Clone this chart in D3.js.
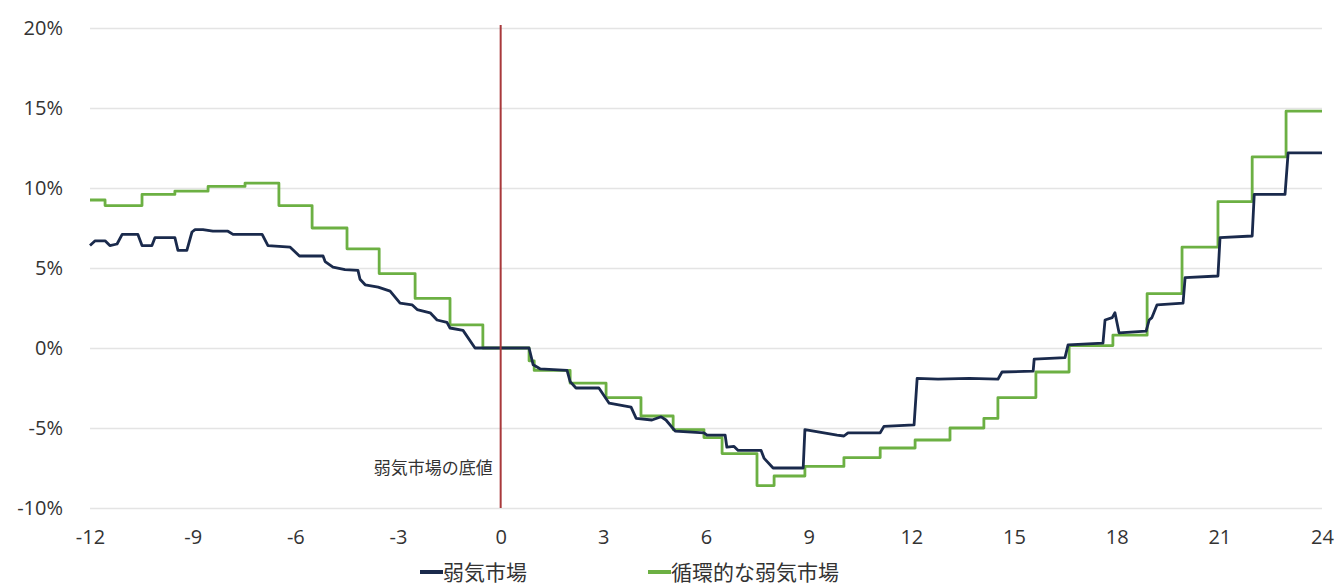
<!DOCTYPE html>
<html>
<head>
<meta charset="utf-8">
<script src="https://cdn.jsdelivr.net/npm/d3@7"></script>
<style>
  html, body { margin: 0; padding: 0; background: #ffffff; }
  svg { display: block; }
</style>
</head>
<body>
<svg id="chart" width="1338" height="587"></svg>
<script>
// ---- data (months from the bear-market bottom, % change) ----
const xTicks = [-12, -9, -6, -3, 0, 3, 6, 9, 12, 15, 18, 21, 24];
const yTicks = [-10, -5, 0, 5, 10, 15, 20];
const seriesNames = ["弱気市場", "循環的な弱気市場"];
const annotationText = "弱気市場の底値";

// 弱気市場 (navy) – vertices
const bearMonths = [-12, -11.85, -11.56, -11.42, -11.21, -11.06, -10.6, -10.48, -10.19, -10.1, -9.52, -9.43, -9.17,
  -9.02, -8.93, -8.7, -8.41, -7.97, -7.82, -6.97, -6.8, -6.15, -5.88, -5.19, -5.13, -4.9, -4.55, -4.17, -4.11,
  -3.96, -3.58, -3.23, -2.94, -2.59, -2.44, -2.06, -1.86, -1.57, -1.48, -1.1, -0.75, 0.83, 0.95, 1.15, 1.94,
  2.03, 2.2, 2.87, 3.17, 3.81, 3.96, 4.42, 4.69, 4.83, 5.1, 5.94, 6.03, 6.56, 6.61, 6.82, 6.94, 7.61, 7.7,
  7.96, 8.84, 8.89, 9.83, 10.03, 10.15, 11.09, 11.2, 12.08, 12.17, 12.78, 13.69, 14.53, 14.65, 15.56, 15.59,
  16.49, 16.58, 17.6, 17.66, 17.87, 17.95, 18.07, 18.86, 18.95, 19.03, 19.18, 19.94, 20.0, 20.96, 21.02,
  21.96, 22.02, 22.92, 23.01, 24];
const bearValues = [6.4, 6.7, 6.7, 6.4, 6.5, 7.1, 7.1, 6.4, 6.4, 6.9, 6.9, 6.1, 6.1,
  7.25, 7.4, 7.4, 7.3, 7.3, 7.1, 7.1, 6.4, 6.3, 5.75, 5.75, 5.4, 5.05, 4.9, 4.85, 4.3,
  3.95, 3.8, 3.55, 2.8, 2.7, 2.4, 2.2, 1.75, 1.6, 1.25, 1.1, 0, 0, -1.05, -1.3, -1.4,
  -2.1, -2.5, -2.5, -3.45, -3.7, -4.4, -4.5, -4.3, -4.5, -5.2, -5.3, -5.45, -5.45, -6.2, -6.15, -6.4, -6.4, -6.9,
  -7.5, -7.5, -5.1, -5.45, -5.5, -5.3, -5.3, -4.9, -4.8, -1.9, -1.95, -1.9, -1.95, -1.5, -1.45, -0.7,
  -0.6, 0.2, 0.3, 1.75, 1.9, 2.2, 0.95, 1.05, 1.75, 1.9, 2.7, 2.8, 4.4, 4.5, 6.9,
  7.0, 9.6, 9.6, 12.2, 12.2];

// 循環的な弱気市場 (green) – step changes (value holds until next change)
const cycMonths = [-12, -11.56, -10.48, -9.52, -8.55, -7.47, -6.48, -5.51, -4.49, -3.55, -2.5, -1.48, -0.52,
  0.83, 0.98, 2.03, 3.08, 4.1, 5.04, 5.94, 6.47, 7.49, 7.99, 8.89, 10.03, 11.09, 12.11, 13.13, 14.12, 14.53,
  15.64, 16.61, 17.89, 18.89, 19.91, 20.96, 21.96, 22.95, 24];
const cycValues = [9.25, 8.9, 9.6, 9.8, 10.1, 10.3, 8.9, 7.5, 6.2, 4.65, 3.1, 1.45, 0,
  -0.8, -1.4, -2.2, -3.1, -4.25, -5.1, -5.6, -6.6, -8.6, -8.0, -7.4, -6.85, -6.25, -5.75, -5.0, -4.4, -3.1,
  -1.5, 0.15, 0.8, 3.4, 6.3, 9.15, 11.95, 14.8, 14.8];

// ---- drawing ----
const svg = d3.select("#chart");
const FONT = "'Open Sans', 'Noto Sans CJK JP', sans-serif";
const plotLeft = 90, plotRight = 1322, plotTop = 28, plotBottom = 508;

const x = d3.scaleLinear().domain([-12, 24]).range([plotLeft, plotRight]);
const y = d3.scaleLinear().domain([-10, 20]).range([plotBottom, plotTop]);

// y axis + grid
const yAxis = svg.append("g")
  .attr("transform", `translate(${plotLeft},0)`)
  .call(d3.axisLeft(y).tickValues(yTicks).tickSize(-(plotRight - plotLeft)).tickPadding(27)
    .tickFormat(d => d + "%"));
yAxis.select(".domain").remove();
yAxis.selectAll(".tick line").attr("stroke", "#e4e4e4").attr("stroke-width", 1.6);
yAxis.selectAll(".tick text").attr("font-family", FONT).attr("font-size", 20).attr("fill", "#333");

// x axis
const xAxis = svg.append("g")
  .attr("transform", `translate(0,${plotBottom})`)
  .call(d3.axisBottom(x).tickValues(xTicks).tickSize(0).tickPadding(22).tickFormat(d => String(d)));
xAxis.select(".domain").remove();
xAxis.selectAll(".tick text").attr("font-family", FONT).attr("font-size", 20).attr("fill", "#333");

// series
const cycData = cycMonths.map((m, i) => [m, cycValues[i]]);
const bearData = bearMonths.map((m, i) => [m, bearValues[i]]);

svg.append("path")
  .datum(cycData)
  .attr("fill", "none")
  .attr("stroke", "#6cb043")
  .attr("stroke-width", 2.8)
  .attr("stroke-linejoin", "round")
  .attr("d", d3.line().x(d => x(d[0])).y(d => y(d[1])).curve(d3.curveStepAfter));

svg.append("path")
  .datum(bearData)
  .attr("fill", "none")
  .attr("stroke", "#1a2a4c")
  .attr("stroke-width", 2.8)
  .attr("stroke-linejoin", "round")
  .attr("d", d3.line().x(d => x(d[0])).y(d => y(d[1])));

// bottom marker line
svg.append("line")
  .attr("x1", x(0)).attr("x2", x(0))
  .attr("y1", y(20) - 3).attr("y2", y(-10))
  .attr("stroke", "#a8393b").attr("stroke-width", 2);

svg.append("text")
  .attr("x", x(0) - 8).attr("y", 467)
  .attr("text-anchor", "end").attr("dominant-baseline", "central")
  .attr("font-family", FONT).attr("font-size", 17).attr("fill", "#333")
  .text(annotationText);

// legend
const legendItems = [
  { name: seriesNames[0], color: "#1a2a4c", x0: 420 },
  { name: seriesNames[1], color: "#6cb043", x0: 648 }
];
const lg = svg.append("g");
legendItems.forEach(it => {
  lg.append("line")
    .attr("x1", it.x0).attr("x2", it.x0 + 23)
    .attr("y1", 572).attr("y2", 572)
    .attr("stroke", it.color).attr("stroke-width", 4);
  lg.append("text")
    .attr("x", it.x0 + 23).attr("y", 572)
    .attr("dominant-baseline", "central")
    .attr("font-family", FONT).attr("font-size", 21).attr("fill", "#333")
    .text(it.name);
});
</script>
</body>
</html>
